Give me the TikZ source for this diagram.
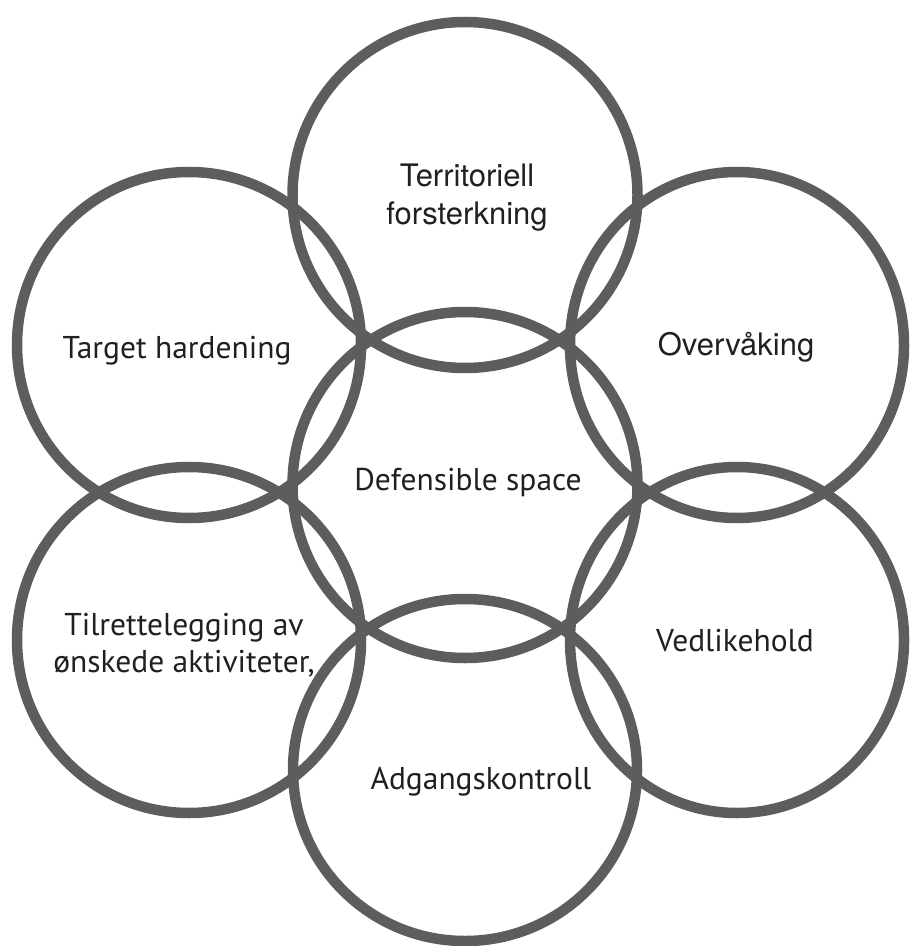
\documentclass[tikz,border=0pt]{standalone}
\usepackage{fontspec}
\newfontfamily\humanist{PT Sans}
\newfontfamily\grotesk{TeX Gyre Heros}
\definecolor{ringgray}{HTML}{5D5D5D}
\definecolor{inktext}{HTML}{231F20}

\begin{document}
\begin{tikzpicture}[x=0.5pt, y=0.5pt,
  ring/.style={draw=ringgray, line width=5.25pt},
  label/.style={text=inktext, font=\humanist\fontsize{15.75}{18.5}\selectfont, align=center, inner sep=0pt},
  thinlabel/.style={text=inktext, font=\grotesk\fontsize{15.5}{19}\selectfont, align=center, inner sep=0pt}]

\useasboundingbox (0,0) rectangle (909,-946);

% rings: centre x / centre y / x radius / y radius
\foreach \x/\y/\rx/\ry in {
465/195/172.5/173, 465/485/172.5/173, 465/770/172/171,
189/345/172/173, 189/640/172/173,
737/345/167/173, 737/640/167/173
}{
    \draw[ring] (\x,-\y) ellipse [x radius=\rx, y radius=\ry];
}

\node[thinlabel] (terr) at (467,-198) {Territoriell\\forsterkning};
\node[thinlabel, anchor=base] (overv) at (736,-355) {Overvåking};
\node[label, anchor=base] (target) at (177,-358) {Target hardening};
\node[label, anchor=base] (defens) at (468,-490) {Defensible space};
\node[label] (tilrett) at (184,-645) {Tilrettelegging av\\ønskede aktiviteter,};
\node[label, anchor=base] (vedlik) at (735,-651) {Vedlikehold};
\node[label, anchor=base] (adgang) at (481,-789) {Adgangskontroll};

\end{tikzpicture}
\end{document}
